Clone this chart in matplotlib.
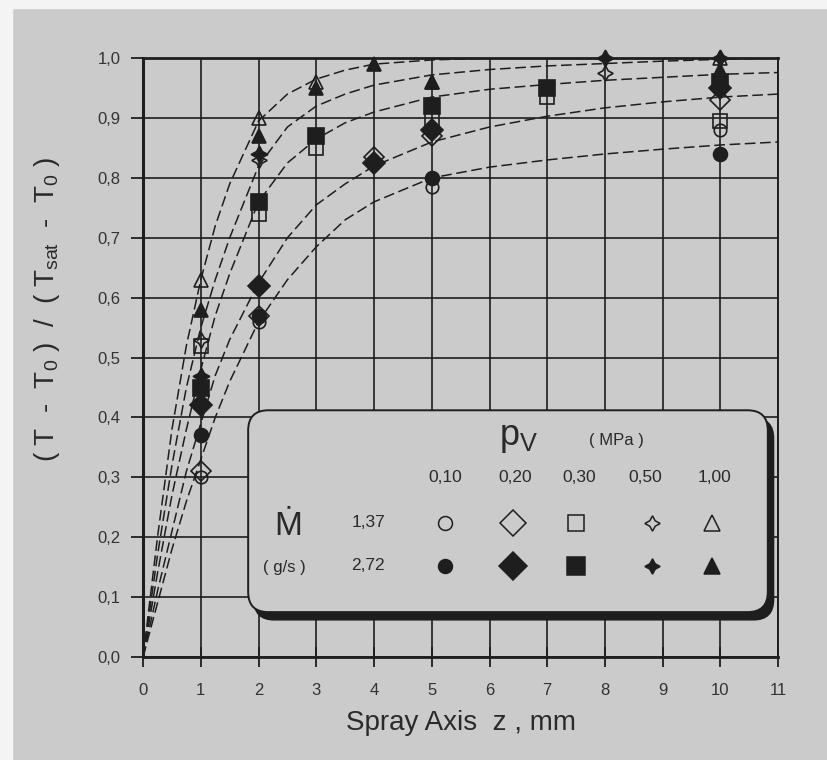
import matplotlib
matplotlib.use('Agg')
import matplotlib.pyplot as plt
from matplotlib.patches import FancyBboxPatch, Rectangle

plt.rcParams['font.family'] = ['Liberation Sans', 'DejaVu Sans']
plt.rcParams['mathtext.default'] = 'regular'

BG = '#cbcbcb'
INK = '#1e1e1e'

# dashed fitted curves, one per spray pressure
curve_z = [0, 0.25, 0.5, 0.75, 1, 1.25, 1.5, 2, 2.5, 3, 3.5, 4, 5, 6, 7, 8, 9, 10, 11]
curve_100 = [0, 0.20, 0.38, 0.52, 0.63, 0.72, 0.79, 0.895, 0.94, 0.965, 0.98, 0.99, 0.997, 1.0, 1.0, 1.0, 1.0, 1.0, 1.0]
curve_050 = [0, 0.17, 0.32, 0.45, 0.55, 0.63, 0.70, 0.82, 0.885, 0.92, 0.94, 0.955, 0.972, 0.981, 0.987, 0.991, 0.995, 0.998, 1.0]
curve_030 = [0, 0.14, 0.27, 0.38, 0.48, 0.57, 0.64, 0.76, 0.825, 0.865, 0.892, 0.91, 0.935, 0.948, 0.956, 0.963, 0.968, 0.973, 0.976]
curve_020 = [0, 0.11, 0.21, 0.31, 0.39, 0.47, 0.53, 0.625, 0.70, 0.755, 0.79, 0.82, 0.86, 0.885, 0.903, 0.917, 0.927, 0.935, 0.94]
curve_010 = [0, 0.09, 0.18, 0.26, 0.33, 0.40, 0.46, 0.56, 0.63, 0.685, 0.73, 0.76, 0.80, 0.818, 0.83, 0.84, 0.848, 0.855, 0.86]

# measured points: (pressure, mass flow) -> z, value
circ_o_z = [1, 2, 5, 10]
circ_o_y = [0.30, 0.56, 0.785, 0.88]
circ_f_z = [1, 2, 5, 10]
circ_f_y = [0.37, 0.57, 0.80, 0.84]
diam_o_z = [1, 2, 4, 5, 10]
diam_o_y = [0.31, 0.57, 0.835, 0.87, 0.93]
diam_f_z = [1, 2, 4, 5, 10]
diam_f_y = [0.42, 0.62, 0.825, 0.88, 0.95]
sq_o_z = [1, 2, 3, 5, 7, 10]
sq_o_y = [0.52, 0.74, 0.85, 0.90, 0.935, 0.895]
sq_f_z = [1, 2, 3, 5, 7, 10]
sq_f_y = [0.45, 0.76, 0.87, 0.92, 0.95, 0.96]
star_o_z = [1, 2, 8, 10]
star_o_y = [0.53, 0.83, 0.975, 0.96]
star_f_z = [1, 2, 8, 10]
star_f_y = [0.47, 0.84, 1.0, 1.0]
tri_o_z = [1, 2, 3, 5, 10]
tri_o_y = [0.63, 0.90, 0.96, 0.96, 1.0]
tri_f_z = [1, 2, 3, 4, 5, 10]
tri_f_y = [0.58, 0.87, 0.95, 0.99, 0.96, 0.98]

pressures = ['0,10', '0,20', '0,30', '0,50', '1,00']
flows = ['1,37', '2,72']
x_ticks = list(range(0, 12))
y_ticks = [i / 10 for i in range(0, 11)]
y_labels = ['0,0', '0,1', '0,2', '0,3', '0,4', '0,5', '0,6', '0,7', '0,8', '0,9', '1,0']

STAR = (4, 1, 0)
fig = plt.figure(figsize=(8.27, 7.6), dpi=100, facecolor=BG)
fig.patches.append(Rectangle((0, 0), 0.015, 1, transform=fig.transFigure, color='#f4f4f4', zorder=0))
fig.patches.append(Rectangle((0, 0.99), 1, 0.01, transform=fig.transFigure, color='#f4f4f4', zorder=0))
ax = fig.add_axes([0.173, 0.1355, 0.768, 0.788])
ax.set_facecolor(BG)

for cy in [curve_100, curve_050, curve_030, curve_020, curve_010]:
    ax.plot(curve_z, cy, color=INK, lw=1.1, dashes=(7, 3), zorder=2)

series = [
    (circ_o_z, circ_o_y, 'o', 9, 'none'),
    (circ_f_z, circ_f_y, 'o', 10, INK),
    (diam_o_z, diam_o_y, 'D', 10, 'none'),
    (diam_f_z, diam_f_y, 'D', 11, INK),
    (sq_o_z, sq_o_y, 's', 10, 'none'),
    (sq_f_z, sq_f_y, 's', 11, INK),
    (star_o_z, star_o_y, STAR, 11, 'none'),
    (star_f_z, star_f_y, STAR, 12, INK),
    (tri_o_z, tri_o_y, '^', 10, 'none'),
    (tri_f_z, tri_f_y, '^', 10, INK),
]
for sz, sy, mk, ms, fc in series:
    ax.plot(sz, sy, ls='none', marker=mk, ms=ms, mfc=fc, mec=INK, mew=1.2, zorder=4, clip_on=False)

ax.set_xlim(0, 11)
ax.set_ylim(0, 1.0)
ax.set_xticks(x_ticks)
ax.set_yticks(y_ticks)
ax.set_yticklabels(y_labels)
ax.grid(True, color=INK, lw=1.2, zorder=1)
ax.set_axisbelow(True)
for s in ax.spines.values():
    s.set_color(INK)
    s.set_linewidth(1.4)
ax.spines['left'].set_linewidth(2.2)
ax.spines['bottom'].set_linewidth(2.0)
ax.spines['top'].set_linewidth(2.0)
ax.tick_params(axis='x', direction='inout', length=14, width=1.3, color=INK,
               labelsize=12, labelcolor='#333333', pad=12)
ax.tick_params(axis='y', direction='out', length=9, width=1.3, color=INK,
               labelsize=12, labelcolor='#333333', pad=7)
ax.set_xlabel('Spray Axis  z , mm', fontsize=20, color='#2a2a2a', labelpad=8)
ax.set_ylabel('( T  -  T$_0$ )  /  ( T$_{sat}$  -  T$_0$ )', fontsize=20,
              color='#2a2a2a')
ax.yaxis.set_label_coords(-0.128, 0.58)

# legend box with drop shadow
asp = 57.7 / 599
shadow = FancyBboxPatch((1.92, 0.062), 9.0, 0.337, boxstyle='round,pad=0,rounding_size=0.35',
                        mutation_aspect=asp, fc=INK, ec=INK, zorder=6)
box = FancyBboxPatch((1.82, 0.075), 9.0, 0.337, boxstyle='round,pad=0,rounding_size=0.35',
                     mutation_aspect=asp, fc=BG, ec=INK, lw=1.4, zorder=7)
ax.add_patch(shadow)
ax.add_patch(box)

tk = dict(color='#2a2a2a', zorder=9)
ax.text(6.5, 0.367, 'p$_V$', fontsize=26, ha='center', va='center', **tk)
ax.text(8.2, 0.362, '( MPa )', fontsize=12, ha='center', va='center', **tk)
leg_x = [5.23, 6.45, 7.55, 8.7, 9.9]
for lx, p in zip(leg_x, pressures):
    ax.text(lx, 0.299, p, fontsize=12.5, ha='center', va='center', **tk)
ax.text(2.51, 0.218, '\u1E40', fontsize=24, ha='center', va='center', **tk)
ax.text(2.45, 0.150, '( g/s )', fontsize=12, ha='center', va='center', **tk)
ax.text(3.9, 0.224, flows[0], fontsize=12.5, ha='center', va='center', **tk)
ax.text(3.9, 0.152, flows[1], fontsize=12.5, ha='center', va='center', **tk)

leg_mx = [5.23, 6.40, 7.49, 8.82, 9.86]
leg_open = [('o', 10), ('D', 13), ('s', 12), (STAR, 11), ('^', 11)]
leg_fill = [('o', 10), ('D', 14), ('s', 13), (STAR, 11), ('^', 12)]
for lx, (mk, ms) in zip(leg_mx, leg_open):
    ax.plot([lx], [0.224], ls='none', marker=mk, ms=ms, mfc=BG, mec=INK, mew=1.1, zorder=9)
for lx, (mk, ms) in zip(leg_mx, leg_fill):
    ax.plot([lx], [0.152], ls='none', marker=mk, ms=ms, mfc=INK, mec=INK, mew=1.1, zorder=9)

fig.savefig('out.png', dpi=100, facecolor=BG)
